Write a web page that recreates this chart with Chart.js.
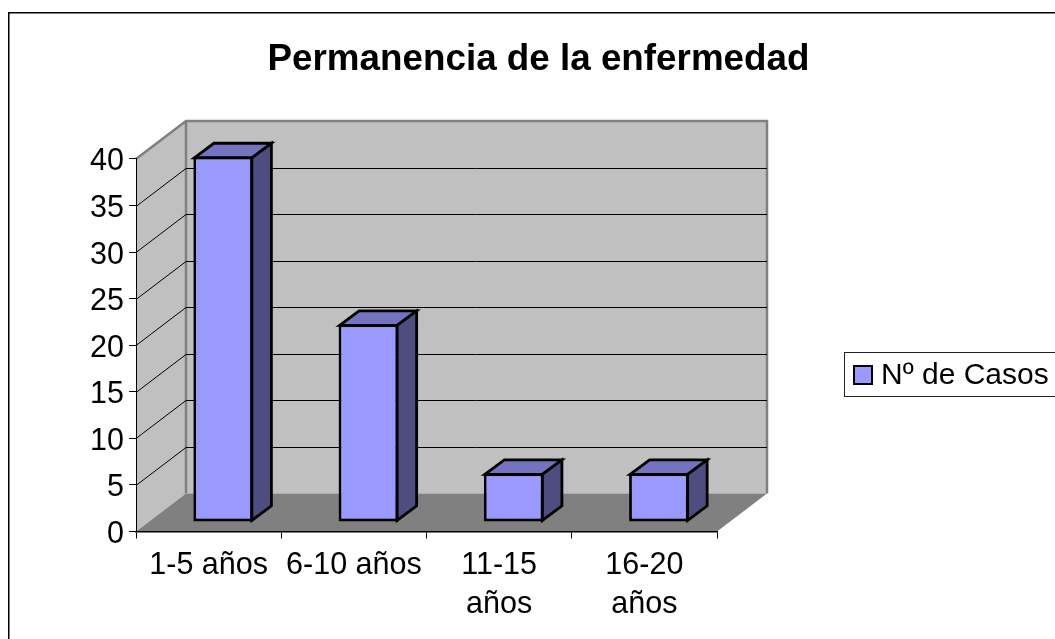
<!DOCTYPE html>
<html><head><meta charset="utf-8">
<style>html,body{margin:0;padding:0;background:#fff}#w{width:1055px;height:639px;position:relative}</style>
<script src="https://cdn.jsdelivr.net/npm/chart.js@4"></script></head>
<body><div id="w"><canvas id="c" width="1055" height="639"></canvas></div>
<script>
const titleText = 'Permanencia de la enfermedad';
const categories = [['1-5 años'], ['6-10 años'], ['11-15', 'años'], ['16-20', 'años']];
const seriesName = 'Nº de Casos';
const casos = [39, 21, 5, 5];
const FONT = '"Liberation Sans", Arial, sans-serif';
const depth = {x: 50, y: -38};
const barDepth = {x: 19.5, y: -14.5};
const barOffset = {x: 14.5, y: -11.5};

function poly(ctx, pts, fill, stroke, lw) {
  ctx.beginPath();
  pts.forEach((p, i) => i ? ctx.lineTo(p[0], p[1]) : ctx.moveTo(p[0], p[1]));
  ctx.closePath();
  if (fill) { ctx.fillStyle = fill; ctx.fill(); }
  if (stroke) { ctx.strokeStyle = stroke; ctx.lineWidth = lw; ctx.lineJoin = 'miter'; ctx.stroke(); }
}
const plugin3d = {
  id: 'plugin3d',
  afterLayout(chart) {
    const l = chart.legend;
    const w = l.width;
    l.left = 860; l.right = 860 + w; l.top = 355; l.bottom = 420;
    const t = chart.titleBlock;
    t.left = 11; t.right = 1055 + 11;
  },
  beforeDraw(chart) {
    const ctx = chart.ctx, a = chart.chartArea, y = chart.scales.y;
    ctx.save();
    ctx.fillStyle = '#fff'; ctx.fillRect(0, 0, 1055, 639);
    ctx.strokeStyle = '#000'; ctx.lineWidth = 1.5;
    ctx.beginPath();
    ctx.moveTo(8.75, 639); ctx.lineTo(8.75, 12.75); ctx.lineTo(1055, 12.75);
    ctx.stroke();
    ctx.lineWidth = 1; ctx.strokeStyle = '#222';
    ctx.strokeRect(844.5, 352.5, 220, 44);
    const dx = depth.x, dy = depth.y, L = a.left, R = a.right, T = a.top, B = a.bottom;
    poly(ctx, [[L, T], [L + dx, T + dy], [L + dx, B + dy], [L, B]], '#C0C0C0');
    poly(ctx, [[L + dx, T + dy], [R + dx, T + dy], [R + dx, B + dy], [L + dx, B + dy]], '#C0C0C0');
    poly(ctx, [[L, B], [L + dx, B + dy], [R + dx, B + dy], [R, B]], '#808080');
    ctx.strokeStyle = '#808080'; ctx.lineWidth = 2.5;
    ctx.beginPath();
    ctx.moveTo(L, T); ctx.lineTo(L + dx, T + dy); ctx.lineTo(R + dx, T + dy); ctx.lineTo(R + dx, B + dy);
    ctx.moveTo(L + dx, T + dy); ctx.lineTo(L + dx, B + dy);
    ctx.stroke();
    ctx.strokeStyle = '#000'; ctx.lineWidth = 1;
    ctx.beginPath();
    y.ticks.forEach(t => {
      if (t.value === 0 || t.value === y.max) return;
      const p = Math.round(y.getPixelForValue(t.value)) + 0.5;
      ctx.moveTo(L, p); ctx.lineTo(L + dx, p + dy); ctx.lineTo(R + dx, p + dy);
    });
    ctx.stroke();
    ctx.restore();
  },
  beforeDatasetsDraw(chart) {
    const ctx = chart.ctx;
    ctx.save();
    ctx.translate(barOffset.x, barOffset.y);
    const dx = barDepth.x, dy = barDepth.y;
    chart.getDatasetMeta(0).data.forEach(b => {
      const l = b.x - b.width / 2 + 1, r = b.x + b.width / 2 - 1, top = b.y + 1, base = b.base - 1;
      poly(ctx, [[l, top], [l + dx, top + dy], [r + dx, top + dy], [r, top]], '#7373BF', '#000', 2.8);
      poly(ctx, [[r, top], [r + dx, top + dy], [r + dx, base + dy], [r, base]], '#4D4D80', '#000', 2.8);
    });
  },
  afterDatasetsDraw(chart) {
    const ctx = chart.ctx;
    ctx.restore();
    const ds = chart.data.datasets[0];
    ctx.save();
    ctx.fillStyle = ds.backgroundColor; ctx.strokeStyle = ds.borderColor; ctx.lineWidth = 2;
    ctx.fillRect(854, 366, 18, 18); ctx.strokeRect(854, 366, 18, 18);
    ctx.restore();
  }
};

new Chart(document.getElementById('c'), {
  type: 'bar',
  data: { labels: categories, datasets: [{
    label: seriesName, data: casos, backgroundColor: '#9999FF', borderColor: '#000', borderWidth: 2.8, borderSkipped: false,
    inflateAmount: 0, barPercentage: 0.41, categoryPercentage: 1, clip: false, base: -0.15
  }]},
  plugins: [plugin3d],
  options: {
    responsive: false, animation: false,
    layout: { padding: { left: 0, right: 338, top: 0, bottom: 0 } },
    plugins: {
      tooltip: { enabled: false },
      title: { display: true, text: titleText, color: '#000', font: { family: FONT, size: 36.8, weight: 'bold', lineHeight: 1.2 }, padding: { top: 38, bottom: 76.8 } },
      legend: { position: 'chartArea', align: 'start',
        labels: { color: '#000', boxWidth: 0, boxHeight: 0, padding: 6, font: { family: FONT, size: 30 },
          generateLabels: c => [{ text: c.data.datasets[0].label, fillStyle: 'rgba(0,0,0,0)', strokeStyle: 'rgba(0,0,0,0)', lineWidth: 0, fontColor: '#000' }] } }
    },
    scales: {
      x: {
        grid: { drawOnChartArea: false, color: '#000', tickLength: 7, tickWidth: 1 },
        border: { color: '#000', width: 1.5 },
        ticks: { color: '#000', maxRotation: 0, autoSkip: false, padding: 8, font: { family: FONT, size: 30.5, lineHeight: 1.27 } },
        afterFit(s) { s.height = 107.5; }
      },
      y: {
        min: 0, max: 40,
        grid: { drawOnChartArea: false, color: '#000', tickLength: 7, tickWidth: 1 },
        border: { color: '#000', width: 1 },
        ticks: { stepSize: 5, color: '#000', padding: 5, labelOffset: 3, font: { family: FONT, size: 30.5 } },
        afterFit(s) { s.width = 136; }
      }
    }
  }
});
</script></body></html>
